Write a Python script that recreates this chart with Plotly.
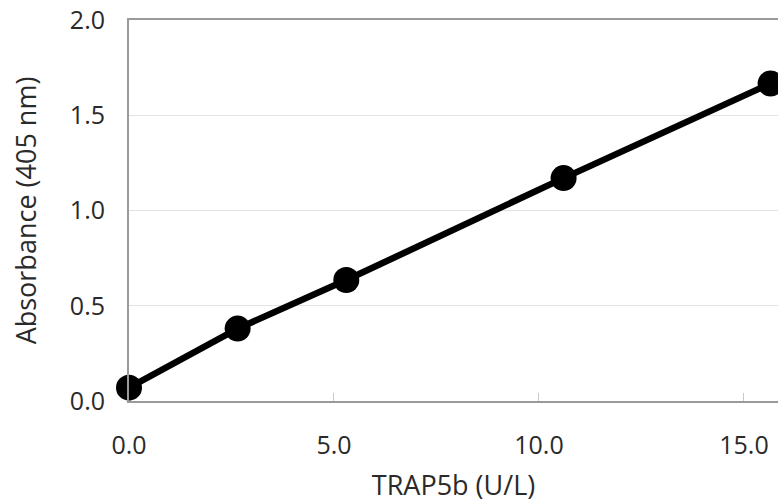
import plotly.graph_objects as go

trap5b = [0.0, 2.65, 5.3, 10.6, 15.65]
absorbance = [0.07, 0.38, 0.635, 1.17, 1.667]
x_ticks = [0, 5, 10, 15]
x_tick_labels = ["0.0", "5.0", "10.0", "15.0"]
y_ticks = [0, 0.5, 1.0, 1.5, 2.0]
y_tick_labels = ["0.0", "0.5", "1.0", "1.5", "2.0"]

font_family = "Open Sans"
text_color = "#2a2a2a"

fig = go.Figure()
fig.add_trace(go.Scatter(
    x=trap5b, y=absorbance, mode="lines+markers",
    line=dict(color="black", width=6.5),
    marker=dict(color="black", size=26),
    cliponaxis=False, showlegend=False,
))

fig.update_layout(
    width=778, height=504,
    margin=dict(l=129, r=0, t=20, b=103, autoexpand=False),
    paper_bgcolor="white", plot_bgcolor="white",
    font=dict(family=font_family, size=25, color=text_color),
)
fig.update_xaxes(
    range=[0, 15.83], tickvals=x_ticks, ticktext=x_tick_labels,
    showgrid=False, zeroline=False, automargin=False,
    showline=True, linecolor="#9a9a9a", linewidth=2, mirror=True,
    ticks="inside", ticklen=8, tickcolor="#c8c8c8", tickwidth=1,
    ticklabelstandoff=21, ticklabeloverflow="allow",
    tickfont=dict(size=25),
    title=dict(text="TRAP5b (U/L)", font=dict(size=27), standoff=16),
)
fig.update_yaxes(
    range=[0, 2.0], tickvals=y_ticks, ticktext=y_tick_labels,
    showgrid=True, gridcolor="#e3e3e3", gridwidth=1, zeroline=False, automargin=False,
    showline=True, linecolor="#9a9a9a", linewidth=2,
    ticks="", ticklabelstandoff=17, ticklabeloverflow="allow",
    tickfont=dict(size=25),
    title=dict(text="Absorbance (405 nm)", font=dict(size=27), standoff=25),
)

fig.write_html(
    "out.html",
    config={"displayModeBar": False},
    post_script="document.body.style.margin='0';document.body.style.overflow='hidden';",
)
